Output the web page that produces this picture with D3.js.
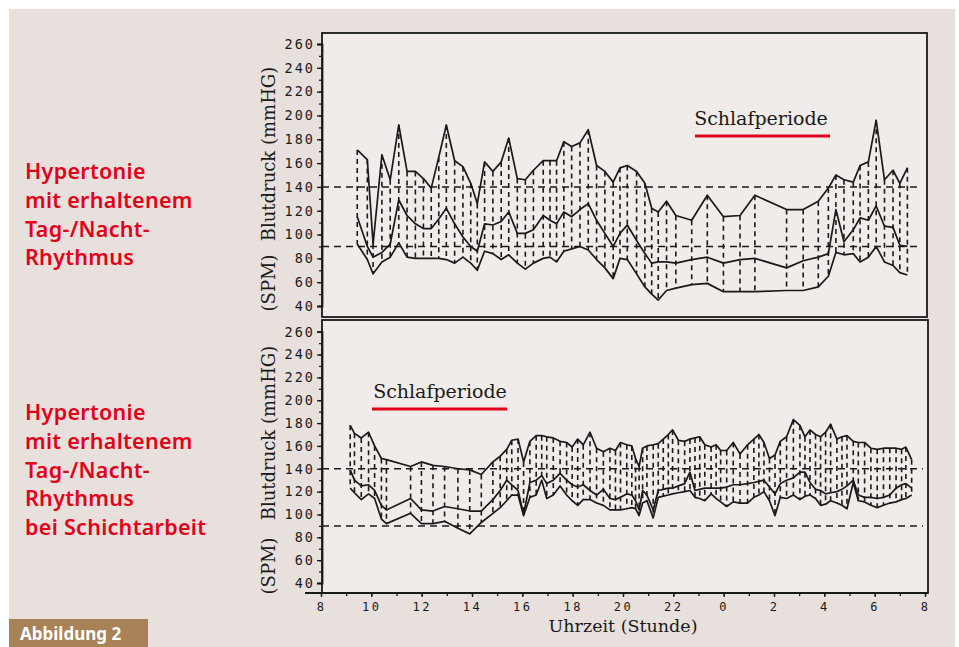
<!DOCTYPE html>
<html>
<head>
<meta charset="utf-8">
<script src="https://cdn.jsdelivr.net/npm/d3@7/dist/d3.min.js"></script>
<style>
  body { margin: 0; background: #fff; }
  svg { display: block; }
</style>
</head>
<body>
<svg id="chart" width="959" height="647"></svg>
<script>
// Messzeitpunkte (Stunden, 24 = Mitternacht) und Werte, oberes Diagramm
const hoursTop = [
  9.44, 9.84, 10.07, 10.42, 10.75, 11.09, 11.42, 11.75, 12.07, 12.38, 12.68, 12.98, 13.31, 13.64,
  13.95, 14.21, 14.5, 14.83, 15.16, 15.46, 15.8, 16.12, 16.44, 16.83, 17.1, 17.36, 17.65, 17.96,
  18.29, 18.62, 18.95, 19.28, 19.61, 19.88, 20.17, 20.54, 20.87, 21.14, 21.4, 21.73, 22.1, 22.73,
  23.35, 23.99, 24.65, 25.24, 26.5, 27.16, 27.76, 28.16, 28.46, 28.78, 29.15, 29.42, 29.75, 30.06,
  30.39, 30.73, 31.0, 31.3
];
const upperTop = [
  171, 163, 92, 167, 146, 192, 153, 153, 147, 139, 165, 192, 162, 157,
  143, 126, 161, 153, 161, 181, 147, 146, 154, 162, 162, 162, 178, 174,
  177, 188, 158, 153, 144, 156, 158, 153, 143, 122, 119, 128, 116, 112,
  133, 115, 116, 133, 121, 121, 128, 139, 150, 146, 144, 158, 161, 196,
  146, 154, 143, 156
];
const middleTop = [
  115, 90, 81, 85, 92, 129, 116, 109, 105, 105, 113, 122, 109, 98,
  90, 86, 109, 108, 111, 119, 101, 101, 104, 116, 112, 109, 119, 115,
  121, 126, 112, 101, 90, 101, 108, 95, 84, 76, 77, 77, 76, 79,
  81, 76, 79, 80, 72, 78, 81, 84, 121, 94, 104, 114, 112, 124,
  107, 106, 91, 90
];
const lowerTop = [
  92, 79, 67, 77, 81, 93, 81, 80, 80, 80, 80, 79, 76, 81,
  76, 70, 86, 84, 79, 83, 76, 71, 76, 80, 81, 77, 86, 88,
  90, 87, 79, 72, 63, 80, 79, 67, 56, 50, 45, 53, 55, 58,
  59, 52, 52, 52, 53, 53, 56, 65, 85, 83, 84, 77, 81, 90,
  77, 74, 68, 66
];

// unteres Diagramm (Schichtarbeit)
const hoursBottom = [
  9.16, 9.33, 9.6, 9.89, 10.13, 10.4, 10.6, 11.56, 11.99, 12.45, 12.91, 13.44, 13.91, 14.37,
  14.83, 15.12, 15.38, 15.58, 15.83, 16.05, 16.3, 16.55, 16.77, 16.97, 17.23, 17.5, 17.76, 17.98,
  18.2, 18.42, 18.69, 18.95, 19.22, 19.48, 19.7, 19.9, 20.15, 20.35, 20.5, 20.64, 20.78, 20.95,
  21.2, 21.4, 21.6, 21.8, 21.97, 22.2, 22.45, 22.66, 22.86, 23.05, 23.25, 23.5, 23.7, 23.88,
  24.12, 24.38, 24.65, 24.95, 25.2, 25.4, 25.6, 25.82, 26.04, 26.25, 26.5, 26.77, 27.03, 27.23,
  27.43, 27.65, 27.85, 28.05, 28.25, 28.5, 28.7, 28.9, 29.15, 29.35, 29.6, 29.85, 30.1, 30.35,
  30.6, 30.85, 31.07, 31.24, 31.47
];
const upperBottom = [
  178, 171, 167, 172, 160, 149, 148, 142, 146, 143, 142, 140, 139, 135,
  146, 151, 157, 165, 166, 146, 164, 169, 169, 168, 167, 164, 163, 159,
  166, 161, 172, 158, 155, 158, 156, 163, 161, 160, 149, 142, 158, 160,
  161, 162, 166, 170, 174, 165, 164, 166, 167, 168, 161, 159, 161, 156,
  156, 163, 153, 161, 166, 170, 163, 149, 152, 164, 168, 183, 178, 168,
  174, 170, 168, 172, 179, 166, 168, 169, 164, 163, 163, 158, 157, 158,
  158, 158, 157, 159, 148
];
const middleBottom = [
  139, 130, 125, 126, 121, 108, 104, 114, 104, 103, 107, 105, 103, 103,
  113, 121, 130, 126, 121, 100, 128, 130, 134, 127, 130, 136, 130, 126,
  124, 126, 121, 117, 122, 114, 113, 115, 118, 117, 112, 104, 121, 117,
  104, 121, 122, 123, 123, 125, 127, 137, 121, 122, 123, 123, 123, 123,
  124, 126, 126, 127, 128, 129, 130, 124, 118, 127, 130, 132, 137, 137,
  128, 122, 121, 118, 119, 120, 122, 125, 130, 117, 115, 115, 114, 115,
  117, 123, 126, 127, 123
];
const lowerBottom = [
  123, 119, 113, 118, 114, 96, 92, 101, 92, 92, 94, 88, 83, 93,
  101, 106, 112, 117, 117, 99, 115, 117, 130, 114, 117, 125, 117, 112,
  108, 113, 113, 110, 108, 104, 104, 104, 105, 106, 105, 99, 110, 112,
  97, 115, 116, 117, 118, 119, 120, 121, 115, 114, 112, 118, 114, 111,
  107, 111, 110, 110, 115, 117, 120, 112, 99, 115, 114, 117, 113, 116,
  117, 114, 108, 109, 112, 110, 108, 105, 128, 112, 111, 108, 106, 108,
  110, 111, 113, 114, 117
];

const refValues = [140, 90];
const yTickValues = d3.range(40, 261, 20);
const yMinorValues = d3.range(40, 261, 10);
const xTickValues = d3.range(8, 33, 2);
const xMinorValues = d3.range(8, 33, 1);

const leftLabelTop = ['Hypertonie', 'mit erhaltenem', 'Tag-/Nacht-', 'Rhythmus'];
const leftLabelBottom = ['Hypertonie', 'mit erhaltenem', 'Tag-/Nacht-', 'Rhythmus', 'bei Schichtarbeit'];

const INK = '#1a1a1a';
const RED = '#e2001a';
const PLOT_FILL = '#f1ece9';
const SERIF = '"DejaVu Serif", "Liberation Serif", serif';
const PLOTTER = '"DejaVu Sans Mono", monospace';

const svg = d3.select('#chart');

svg.append('rect').attr('width', 959).attr('height', 647).attr('fill', '#fff');
svg.append('rect').attr('x', 9).attr('y', 9).attr('width', 946).attr('height', 638).attr('fill', '#e8e0dc');

const x = d3.scaleLinear().domain([8, 32]).range([321, 925]);

function drawPanel({ frame, y, hours, upper, middle, lower }) {
  const g = svg.append('g');

  g.append('rect')
    .attr('x', frame.x0)
    .attr('y', frame.y0)
    .attr('width', frame.x1 - frame.x0)
    .attr('height', frame.y1 - frame.y0)
    .attr('fill', PLOT_FILL);

  // Grenzwerte 140 / 90
  g.selectAll('line.ref')
    .data(refValues)
    .join('line')
    .attr('class', 'ref')
    .attr('x1', frame.x0)
    .attr('x2', frame.x1 - 5)
    .attr('y1', v => y(v))
    .attr('y2', v => y(v))
    .attr('stroke', INK)
    .attr('stroke-width', 1.5)
    .attr('stroke-dasharray', '7,5');

  // senkrechte Strichlinien je Messung
  g.selectAll('line.span')
    .data(hours)
    .join('line')
    .attr('class', 'span')
    .attr('x1', h => x(h))
    .attr('x2', h => x(h))
    .attr('y1', (h, i) => y(Math.max(upper[i], middle[i], lower[i])))
    .attr('y2', (h, i) => y(Math.min(upper[i], middle[i], lower[i])))
    .attr('stroke', INK)
    .attr('stroke-width', 1.6)
    .attr('stroke-dasharray', '5,4');

  const line = d3.line().x(d => x(d[0])).y(d => y(d[1]));
  for (const series of [upper, middle, lower]) {
    g.append('path')
      .datum(hours.map((h, i) => [h, series[i]]))
      .attr('d', line)
      .attr('fill', 'none')
      .attr('stroke', INK)
      .attr('stroke-width', 1.7)
      .attr('stroke-linejoin', 'round');
  }

  g.append('rect')
    .attr('x', frame.x0)
    .attr('y', frame.y0)
    .attr('width', frame.x1 - frame.x0)
    .attr('height', frame.y1 - frame.y0)
    .attr('fill', 'none')
    .attr('stroke', INK)
    .attr('stroke-width', 1.8);

  const minor = g.append('g')
    .attr('transform', `translate(${frame.x0},0)`)
    .call(d3.axisLeft(y).tickValues(yMinorValues).tickSize(3).tickFormat(''));
  minor.select('.domain').remove();
  minor.selectAll('line').attr('stroke', INK).attr('stroke-width', 1.3);

  const major = g.append('g')
    .attr('transform', `translate(${frame.x0},0)`)
    .call(d3.axisLeft(y).tickValues(yTickValues).tickSize(5).tickPadding(2));
  major.select('.domain').attr('stroke', INK).attr('stroke-width', 1.8);
  major.selectAll('line').attr('stroke', INK).attr('stroke-width', 1.3);
  major.selectAll('text')
    .attr('fill', INK)
    .style('font-family', PLOTTER)
    .style('font-size', '13.5px')
    .style('letter-spacing', '2px');

  return g;
}

function axisTitle(cx, cy, text, size) {
  svg.append('text')
    .attr('transform', `translate(${cx},${cy}) rotate(-90)`)
    .attr('text-anchor', 'middle')
    .attr('fill', INK)
    .style('font-family', SERIF)
    .style('font-size', size + 'px')
    .text(text);
}

function sleepLabel(cx, baseline, x0, x1) {
  svg.append('text')
    .attr('x', cx)
    .attr('y', baseline)
    .attr('text-anchor', 'middle')
    .attr('fill', INK)
    .style('font-family', SERIF)
    .style('font-size', '19px')
    .text('Schlafperiode');
  svg.append('line')
    .attr('x1', x0)
    .attr('x2', x1)
    .attr('y1', baseline + 11)
    .attr('y2', baseline + 11)
    .attr('stroke', RED)
    .attr('stroke-width', 3);
}

function leftLabel(lines, firstBaseline) {
  const t = svg.append('text')
    .attr('fill', RED)
    .style('font-family', '"Noto Sans", "Open Sans", sans-serif')
    .style('font-size', '21.5px')
    .style('font-weight', '600')
    .style('letter-spacing', '0.3px');
  lines.forEach((s, i) => {
    t.append('tspan').attr('x', 25).attr('y', firstBaseline + i * 28.8).text(s);
  });
}

const yTop = d3.scaleLinear().domain([40, 260]).range([306, 44]);
const yBottom = d3.scaleLinear().domain([40, 260]).range([583, 331.7]);

drawPanel({
  frame: { x0: 322, x1: 927, y0: 33, y1: 317 },
  y: yTop,
  hours: hoursTop,
  upper: upperTop,
  middle: middleTop,
  lower: lowerTop
});

drawPanel({
  frame: { x0: 322, x1: 928, y0: 320, y1: 593 },
  y: yBottom,
  hours: hoursBottom,
  upper: upperBottom,
  middle: middleBottom,
  lower: lowerBottom
});

// Zeitachse unten
svg.append('line')
  .attr('x1', 305).attr('x2', 928)
  .attr('y1', 593).attr('y2', 593)
  .attr('stroke', INK).attr('stroke-width', 1.8);

const xMinor = svg.append('g')
  .attr('transform', 'translate(0,593)')
  .call(d3.axisBottom(x).tickValues(xMinorValues).tickSize(3).tickFormat(''));
xMinor.select('.domain').remove();
xMinor.selectAll('line').attr('stroke', INK).attr('stroke-width', 1.3);

const xMajor = svg.append('g')
  .attr('transform', 'translate(0,593)')
  .call(d3.axisBottom(x).tickValues(xTickValues).tickSize(4).tickPadding(5).tickFormat(h => String(h % 24)));
xMajor.select('.domain').remove();
xMajor.selectAll('line').attr('stroke', INK).attr('stroke-width', 1.3);
xMajor.selectAll('text')
  .attr('fill', INK)
  .style('font-family', PLOTTER)
  .style('font-size', '12px')
  .style('letter-spacing', '2.5px');

svg.append('text')
  .attr('x', 623)
  .attr('y', 632)
  .attr('text-anchor', 'middle')
  .attr('fill', INK)
  .style('font-family', SERIF)
  .style('font-size', '17.5px')
  .text('Uhrzeit (Stunde)');

axisTitle(275, 154, 'Blutdruck (mmHG)', 18);
axisTitle(275, 283, '(SPM)', 18);
axisTitle(275, 433, 'Blutdruck (mmHG)', 18);
axisTitle(275, 566, '(SPM)', 18);

sleepLabel(761, 125, 695, 830);
sleepLabel(440, 398, 372, 507);

leftLabel(leftLabelTop, 179);
leftLabel(leftLabelBottom, 420);

svg.append('rect')
  .attr('x', 9).attr('y', 619)
  .attr('width', 139).attr('height', 28)
  .attr('fill', '#a88257');
svg.append('text')
  .attr('x', 20).attr('y', 640)
  .attr('fill', '#fff')
  .style('font-family', '"Noto Sans", "Open Sans", sans-serif')
  .style('font-size', '17px')
  .style('font-weight', 'bold')
  .text('Abbildung 2');
</script>
</body>
</html>
